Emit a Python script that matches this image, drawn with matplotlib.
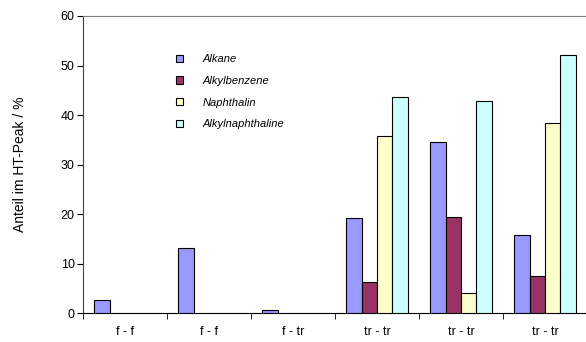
import numpy as np
import matplotlib
matplotlib.use('Agg')
import matplotlib.pyplot as plt

plt.rcParams['font.family'] = ['Liberation Sans', 'DejaVu Sans']

# Data
categories = ['f - f', 'f - f', 'f - tr', 'tr - tr', 'tr - tr', 'tr - tr']
series_names = ['Alkane', 'Alkylbenzene', 'Naphthalin', 'Alkylnaphthaline']
alkane = [2.7, 13.1, 0.6, 19.2, 34.6, 15.9]
alkylbenzene = [0, 0, 0, 6.3, 19.4, 7.5]
naphthalin = [0, 0, 0, 35.7, 4.1, 38.4]
alkylnaphthaline = [0, 0, 0, 43.7, 42.8, 52.1]
colors = ['#9999FF', '#993366', '#FFFFCC', '#CCFFFF']

fig = plt.figure(figsize=(5.86, 3.42), dpi=100)
ax = fig.add_axes([83 / 586, 1 - 313.3 / 342, 504 / 586, 297.3 / 342])

x = np.arange(len(categories))
width = 0.182
all_series = [alkane, alkylbenzene, naphthalin, alkylnaphthaline]
for i, (vals, name, col) in enumerate(zip(all_series, series_names, colors)):
    offs = (i - 1.5) * width
    xs = [xi + offs for xi, v in zip(x, vals) if v > 0]
    vs = [v for v in vals if v > 0]
    ax.bar(xs, vs, width=width, color=col, edgecolor='black', linewidth=0.8,
           label=name, zorder=3)

ax.set_xlim(-0.5, len(categories) - 0.5)
ax.set_ylim(0, 60)
ax.set_yticks(range(0, 61, 10))
ax.set_xticks(x)
ax.set_xticklabels(categories, fontsize=9)
ax.set_xticks(np.arange(-0.5, len(categories), 1), minor=True)
ax.tick_params(axis='x', which='major', length=0, pad=9)
ax.tick_params(axis='x', which='minor', length=4, direction='out', color='black')
ax.tick_params(axis='y', labelsize=9, length=4, direction='out', pad=2)

ax.spines['right'].set_visible(False)
ax.spines['top'].set_color('#808080')
ax.spines['left'].set_color('#404040')
ax.spines['bottom'].set_color('black')

ax.set_ylabel('Anteil im HT-Peak / %', fontsize=10, labelpad=24)

leg = ax.legend(loc='upper left', bbox_to_anchor=(0.165, 0.905), frameon=False,
                fontsize=8, handlelength=0.65, handleheight=0.65,
                handletextpad=1.7, labelspacing=1.05)
for t in leg.get_texts():
    t.set_fontstyle('italic')

fig.savefig('out.png', dpi=100)
